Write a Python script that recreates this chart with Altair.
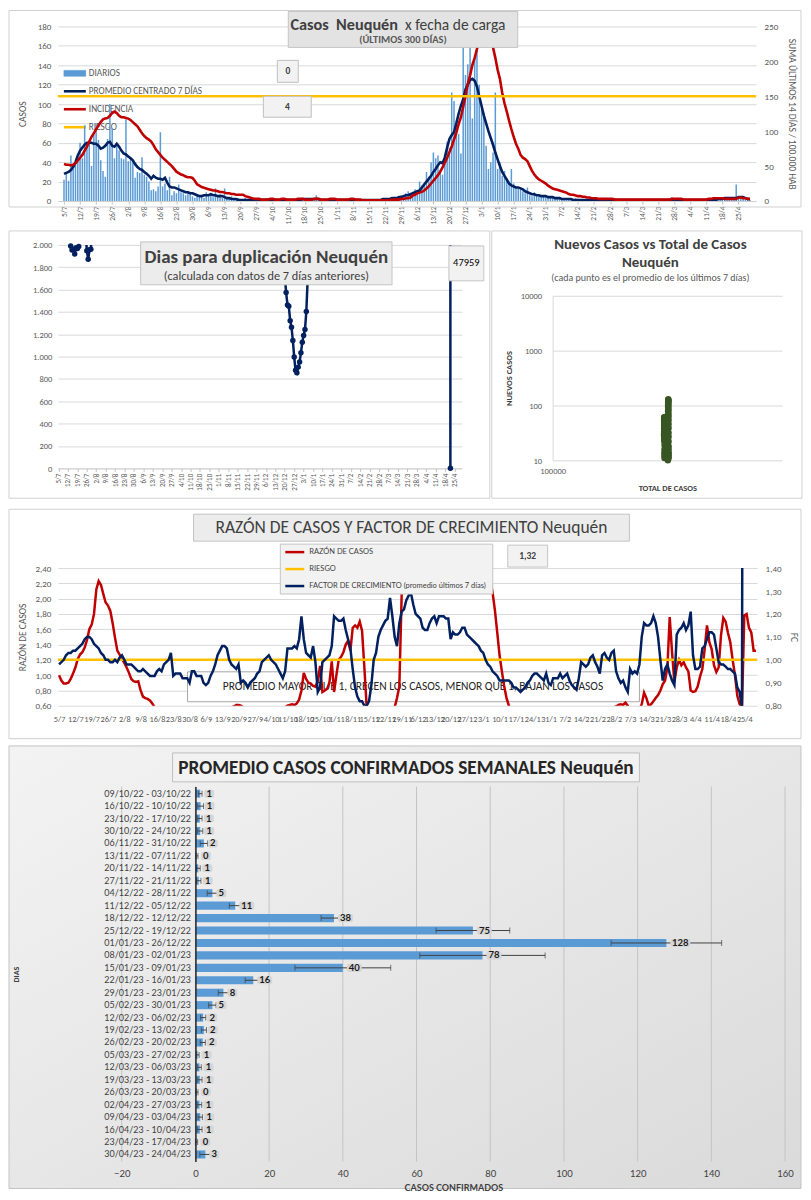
import json
import altair as alt
import pandas as pd

FONT = "Carlito, Lato, 'Open Sans', sans-serif"
NARROW = "'Liberation Sans Narrow', 'Arial Narrow', Lato, sans-serif"
GRIS = "#595959"
OSCURO = "#404040"

# ---------------- eje de días: últimos 300 días (5/7/2022 ... 30/4/2023) ----------------
TICK_LABELS = ['5/7', '12/7', '19/7', '26/7', '2/8', '9/8', '16/8', '23/8', '30/8', '6/9', '13/9',
               '20/9', '27/9', '4/10', '11/10', '18/10', '25/10', '1/11', '8/11', '15/11', '22/11',
               '29/11', '6/12', '13/12', '20/12', '27/12', '3/1', '10/1', '17/1', '24/1', '31/1',
               '7/2', '14/2', '21/2', '28/2', '7/3', '14/3', '21/3', '28/3', '4/4', '11/4', '18/4', '25/4']
TICKS = [7 * i for i in range(len(TICK_LABELS))]
DIAS = list(range(300))

# ---------------- panel 1: casos diarios ----------------
DIARIOS = [
    22, 30, 21, 47, 33, 40, 47, 60, 44, 78,
    58, 60, 36, 68, 80, 63, 42, 31, 25, 64,
    100, 75, 44, 60, 52, 44, 43, 84, 41, 45,
    40, 24, 30, 29, 45, 27, 25, 20, 11, 12,
    10, 15, 71, 15, 18, 11, 25, 6, 10, 8,
    17, 9, 8, 6, 10, 9, 5, 3, 5, 4,
    6, 3, 9, 5, 6, 4, 13, 5, 7, 3,
    13, 2, 3, 5, 1, 2, 3, 1, 2, 3,
    1, 0, 2, 1, 1, 2, 0, 1, 3, 1,
    0, 1, 2, 1, 0, 1, 1, 2, 0, 1,
    1, 0, 2, 1, 3, 1, 0, 1, 2, 1,
    6, 1, 0, 2, 1, 1, 0, 3, 1, 0,
    1, 2, 1, 0, 1, 3, 1, 0, 2, 1,
    0, 1, 1, 2, 0, 1, 0, 1, 2, 1,
    2, 1, 3, 2, 4, 3, 5, 6, 4, 8,
    10, 7, 9, 12, 8, 20, 16, 18, 30, 25,
    40, 50, 44, 47, 32, 27, 38, 61, 55, 112,
    103, 80, 69, 49, 160, 130, 141, 158, 85, 150,
    160, 120, 95, 91, 57, 33, 40, 50, 112, 33,
    40, 26, 31, 23, 20, 33, 18, 14, 13, 12,
    10, 8, 14, 6, 5, 9, 6, 5, 4, 6,
    4, 3, 5, 3, 2, 4, 2, 1, 3, 2,
    1, 2, 1, 3, 1, 0, 2, 1, 1, 0,
    1, 2, 0, 1, 1, 0, 2, 1, 0, 1,
    1, 0, 1, 2, 0, 1, 1, 0, 2, 1,
    0, 1, 1, 0, 2, 1, 0, 1, 1, 0,
    1, 0, 1, 2, 1, 4, 0, 1, 1, 0,
    1, 1, 0, 2, 1, 0, 1, 1, 2, 0,
    1, 2, 1, 0, 3, 2, 1, 1, 2, 3,
    2, 1, 3, 17, 3, 2, 4, 1, 2, 1]
PROMEDIO = [
    28, 29, 30, 32, 35, 40, 47, 52, 55, 58,
    60, 60, 60, 59, 59, 57, 54, 55, 57, 60,
    61, 57, 56, 59, 56, 52, 49, 48, 46, 44,
    42, 38, 35, 33, 32, 30, 28, 26, 23, 26,
    24, 23, 23, 22, 24, 19, 15, 14, 14, 13,
    12, 11, 10, 9, 9, 8, 8, 7, 6, 5,
    5, 6, 6, 6, 7, 6, 6, 5, 5, 5,
    4, 3, 3, 2, 2, 2, 1, 1, 1, 1,
    1, 1, 1, 1, 1, 1, 1, 1, 1, 1,
    1, 1, 1, 1, 1, 1, 1, 1, 1, 1,
    1, 1, 1, 1, 2, 2, 2, 2, 2, 2,
    2, 2, 1, 1, 1, 1, 1, 1, 1, 1,
    1, 1, 1, 1, 1, 1, 1, 1, 1, 1,
    1, 1, 1, 1, 1, 1, 1, 1, 1, 2,
    2, 2, 2, 3, 3, 3, 4, 4, 5, 6,
    6, 7, 8, 9, 10, 11, 14, 17, 20, 23,
    26, 30, 33, 37, 40, 39, 45, 55, 64, 68,
    71, 80, 90, 98, 105, 115, 120, 125, 126, 124,
    118, 108, 98, 88, 80, 72, 65, 58, 50, 43,
    36, 30, 26, 22, 18, 16, 15, 14, 14, 13,
    12, 10, 9, 8, 7, 7, 6, 6, 5, 5,
    5, 4, 4, 4, 3, 3, 3, 2, 2, 2,
    2, 2, 1, 1, 1, 1, 1, 1, 1, 1,
    1, 1, 1, 1, 1, 1, 1, 1, 1, 1,
    1, 1, 1, 1, 1, 1, 1, 1, 1, 1,
    1, 1, 1, 1, 1, 1, 1, 1, 1, 1,
    1, 1, 1, 1, 1, 1, 1, 1, 1, 1,
    1, 1, 1, 1, 1, 1, 1, 1, 1, 1,
    1, 1, 1, 1, 1, 2, 2, 2, 3, 3,
    3, 3, 3, 3, 4, 4, 4, 3, 2, 2]
INCIDENCIA = [
    53, 52, 52, 51, 52, 54, 58, 62, 66, 72,
    78, 85, 92, 97, 103, 108, 113, 117, 118, 119,
    122, 126, 128, 126, 122, 120, 120, 119, 118, 116,
    113, 110, 107, 102, 97, 93, 90, 88, 85, 80,
    74, 70, 66, 62, 59, 56, 53, 50, 46, 42,
    40, 38, 37, 35, 34, 34, 33, 29, 24, 22,
    20, 19, 18, 17, 16, 15, 15, 14, 13, 13,
    12, 11, 11, 10, 10, 9, 9, 9, 9, 7,
    6, 5, 4, 3, 3, 3, 2, 2, 2, 2,
    3, 3, 2, 2, 2, 3, 3, 2, 2, 2,
    2, 2, 3, 3, 3, 2, 2, 2, 2, 3,
    3, 3, 2, 2, 2, 2, 3, 3, 3, 2,
    2, 2, 2, 2, 2, 3, 3, 2, 2, 2,
    1, 1, 1, 1, 1, 1, 1, 1, 1, 1,
    1, 1, 1, 2, 2, 2, 2, 3, 3, 4,
    4, 5, 8, 9, 11, 12, 13, 15, 18, 21,
    25, 29, 33, 37, 42, 48, 55, 62, 70, 78,
    88, 98, 110, 120, 135, 150, 168, 180, 195, 205,
    218, 228, 238, 245, 248, 245, 235, 220, 205, 188,
    175, 155, 140, 128, 115, 103, 92, 82, 75, 66,
    62, 60, 57, 50, 43, 38, 34, 31, 29, 27,
    25, 22, 20, 18, 17, 16, 15, 14, 13, 12,
    10, 9, 9, 8, 7, 7, 6, 6, 5, 5,
    4, 4, 4, 3, 3, 3, 3, 3, 3, 3,
    2, 2, 2, 2, 2, 2, 2, 2, 2, 2,
    2, 2, 2, 2, 2, 2, 2, 2, 2, 2,
    2, 2, 2, 2, 2, 3, 3, 3, 3, 3,
    2, 2, 2, 2, 2, 2, 2, 2, 2, 2,
    2, 3, 3, 4, 4, 4, 4, 4, 3, 3,
    3, 3, 3, 3, 5, 5, 4, 4, 3, 3]
RIESGO_INCIDENCIA = 150

# ---------------- panel 2a: días para duplicación ----------------
DUP_DIA = list(range(8, 26)) + list(range(167, 187)) + [290, 291]
DUP_VALOR = [2150, 1990, 1955, 1960, 1918, 1975, 1967, 1985, 2080, 2300, 2450, 2400, 2150, 1948, 1872, 1956, 1962, 2150,
             2150, 1724, 1575, 1462, 1450, 1322, 1263, 1144, 996, 877, 856, 906, 951, 1034, 1129, 1189, 1242, 1403, 1694, 2300,
             47959, 0]
DUP_TRAMO = ["a"] * 18 + ["b"] * 20 + ["c"] * 2

# ---------------- panel 2b: nuevos casos vs total ----------------
SCAT_TOTAL = [306000, 306030, 306065, 306105, 306150, 306200, 306260, 306320, 306380, 306440,
              306500, 306560, 306620, 306680, 306740, 306800, 306860, 306915, 306970, 307020,
              307065, 307105, 307140, 307170, 307200, 307225, 307250, 307272, 307290, 307308,
              307325, 307342, 307360, 307375, 307390, 307402, 307413, 307423, 307432, 307440,
              318000, 318011, 318025, 318042, 318062, 318086, 318114, 318146, 318183, 318224,
              318270, 318325, 318390, 318460, 318540, 318630, 318730, 318840, 318960, 319085,
              319215, 319340, 319455, 319558, 319648, 319728, 319798, 319860, 319914, 319960,
              319998, 320029, 320055, 320077, 320095, 320111, 320125, 320137, 320148, 320158]
SCAT_NUEVOS = [28, 30, 33, 38, 44, 50, 55, 58, 60, 60, 59, 58, 55, 56, 59, 61, 57, 55, 58, 53,
               49, 47, 44, 41, 37, 34, 32, 29, 27, 24, 25, 23, 22, 23, 19, 16, 14, 13, 12, 11,
               10, 11, 14, 17, 20, 24, 28, 32, 36, 40, 45, 55, 64, 70, 80, 90, 100, 110, 118, 125,
               130, 126, 115, 102, 90, 80, 70, 62, 54, 46, 39, 32, 27, 22, 18, 16, 14, 13, 12, 11]

# ---------------- panel 3: razón de casos y factor de crecimiento ----------------
RAZON = [
    1.00, 0.93, 0.89, 0.89, 0.90, 0.95, 1.02, 1.10, 1.21, 1.27,
    1.30, 1.36, 1.46, 1.60, 1.66, 1.80, 2.12, 2.23, 2.18, 2.06,
    1.95, 1.91, 1.84, 1.68, 1.49, 1.32, 1.27, 1.21, 1.16, 1.10,
    1.03, 0.95, 0.92, 0.91, 0.92, 0.80, 0.72, 0.70, 0.69, 0.67,
    0.63, 0.58, 0.54, 0.50, 0.48, 0.47, 0.49, 0.51, 0.50, 0.48,
    0.46, 0.47, 0.49, 0.52, 0.50, 0.48, 0.47, 0.49, 0.51, 0.50,
    0.48, 0.47, 0.49, 0.50, 0.52, 0.51, 0.49, 0.50, 0.53, 0.55,
    0.54, 0.56, 0.55, 0.57, 0.58, 0.59, 0.61, 0.61, 0.60, 0.58,
    0.55, 0.52, 0.50, 0.49, 0.50, 0.52, 0.51, 0.50, 0.52, 0.54,
    0.53, 0.55, 0.54, 0.56, 0.55, 0.57, 0.58, 0.58, 0.60, 0.61,
    0.62, 0.61, 0.63, 0.68, 0.80, 1.03, 0.95, 0.90, 0.89, 0.86,
    0.85, 0.92, 1.12, 0.78, 0.80, 0.82, 0.90, 1.18, 0.78, 1.00,
    1.20, 1.24, 1.30, 1.40, 1.45, 1.32, 1.62, 1.65, 1.62, 1.70,
    1.58, 1.10, 0.58, 0.50, 0.47, 0.45, 0.46, 0.48, 0.50, 0.49,
    0.50, 0.52, 0.53, 0.55, 0.58, 0.70, 0.85, 2.05, 2.60, 2.90,
    3.10, 3.20, 3.10, 3.00, 2.90, 3.00, 3.10, 2.90, 2.80, 2.75,
    2.70, 2.80, 2.75, 2.70, 2.65, 2.70, 2.75, 2.80, 2.85, 2.90,
    2.95, 2.90, 2.85, 2.80, 2.75, 2.70, 2.65, 2.60, 2.55, 2.50,
    2.50, 2.45, 2.40, 2.35, 2.30, 2.25, 2.08, 1.85, 1.56, 1.26,
    1.05, 0.85, 0.70, 0.60, 0.52, 0.48, 0.45, 0.43, 0.42, 0.43,
    0.44, 0.45, 0.46, 0.47, 0.48, 0.47, 0.46, 0.48, 0.49, 0.50,
    0.49, 0.48, 0.50, 0.51, 0.50, 0.49, 0.50, 0.52, 0.51, 0.50,
    0.49, 0.50, 0.51, 0.52, 0.53, 0.52, 0.51, 0.53, 0.54, 0.55,
    0.54, 0.53, 0.55, 0.56, 0.55, 0.54, 0.56, 0.57, 0.58, 0.59,
    0.61, 0.62, 0.61, 0.64, 0.60, 0.55, 0.50, 0.48, 0.52, 0.55,
    0.62, 0.77, 0.70, 0.60, 0.62, 0.66, 0.70, 0.74, 0.80, 0.88,
    0.93, 1.10, 1.76, 1.30, 0.91, 1.10, 1.20, 1.13, 1.17, 1.10,
    1.05, 0.80, 0.78, 0.79, 0.85, 0.98, 1.08, 1.34, 1.65, 1.43,
    1.34, 1.13, 1.04, 1.10, 1.52, 1.75, 1.70, 1.55, 1.43, 1.20,
    1.00, 0.73, 0.62, 0.58, 1.78, 1.80, 1.62, 1.56, 1.32, 1.32]
FC = [
    0.98, 0.99, 1.00, 1.02, 1.03, 1.03, 1.04, 1.04, 1.05, 1.06,
    1.07, 1.09, 1.10, 1.10, 1.09, 1.07, 1.06, 1.05, 1.03, 1.02,
    1.00, 1.00, 0.99, 0.99, 1.00, 0.99, 1.01, 1.02, 1.00, 0.98,
    0.98, 0.98, 0.97, 0.96, 0.95, 0.95, 0.96, 0.95, 0.94, 0.93,
    0.93, 0.93, 0.95, 0.96, 0.95, 0.98, 0.99, 1.00, 1.03, 0.93,
    0.94, 0.94, 0.94, 0.92, 0.92, 0.92, 0.90, 0.95, 0.95, 0.93,
    0.93, 0.93, 0.90, 0.89, 0.90, 0.93, 0.95, 0.98, 1.02, 1.04,
    1.06, 1.06, 1.05, 1.00, 0.98, 0.97, 0.96, 0.98, 0.90, 0.91,
    0.90, 0.88, 0.90, 0.91, 0.92, 0.94, 0.95, 0.99, 1.00, 1.01,
    1.02, 1.00, 0.99, 0.98, 0.96, 0.94, 0.92, 0.95, 1.05, 1.05,
    1.05, 1.06, 1.05, 1.09, 1.19, 1.09, 1.03, 1.02, 1.01, 1.06,
    0.99, 0.86, 0.88, 0.99, 1.00, 1.01, 1.02, 1.06, 1.19, 1.18,
    1.17, 1.17, 1.18, 1.13, 1.09, 1.05, 0.96, 0.88, 0.84, 0.82,
    0.82, 0.80, 0.80, 0.82, 0.89, 1.00, 1.03, 1.10, 1.13, 1.15,
    1.17, 1.18, 1.27, 1.19, 1.10, 1.06, 1.16, 1.21, 1.22, 1.26,
    1.28, 1.29, 1.24, 1.20, 1.19, 1.18, 1.14, 1.13, 1.13, 1.16,
    1.18, 1.19, 1.16, 1.19, 1.19, 1.19, 1.18, 1.18, 1.09, 1.12,
    1.11, 1.11, 1.12, 1.14, 1.14, 1.11, 1.10, 1.09, 1.08, 1.07,
    1.06, 1.04, 1.03, 1.00, 0.98, 0.97, 0.95, 0.94, 0.93, 0.91,
    0.91, 0.91, 0.91, 0.91, 0.90, 0.88, 0.88, 0.87, 0.86, 0.87,
    0.88, 0.90, 0.91, 0.93, 0.94, 0.94, 0.93, 0.92, 0.91, 0.94,
    0.90, 0.89, 0.92, 0.92, 0.92, 0.94, 0.92, 0.93, 0.94, 0.91,
    0.89, 0.88, 0.87, 0.92, 0.99, 0.98, 0.97, 0.98, 1.01, 1.02,
    0.99, 0.97, 0.94, 1.02, 1.03, 1.01, 1.00, 1.03, 1.04, 0.95,
    0.92, 0.90, 0.91, 0.88, 0.86, 0.96, 0.94, 0.95, 0.94, 0.98,
    1.10, 1.16, 1.15, 1.15, 1.16, 1.19, 1.16, 1.10, 1.00, 0.91,
    0.96, 0.98, 0.94, 0.91, 0.89, 1.11, 1.13, 1.14, 1.16, 1.13,
    1.15, 1.21, 1.02, 0.96, 0.96, 0.97, 1.05, 1.06, 1.09, 1.12,
    1.12, 1.11, 1.05, 0.99, 0.98, 0.98, 0.97, 0.96, 0.96, 0.95,
    0.94, 0.88, 0.86, 0.79, 6.00]
RIESGO_FC = 1.0

# ---------------- panel 4: promedio semanal ----------------
SEMANAS = ['09/10/22 - 03/10/22', '16/10/22 - 10/10/22', '23/10/22 - 17/10/22', '30/10/22 - 24/10/22',
           '06/11/22 - 31/10/22', '13/11/22 - 07/11/22', '20/11/22 - 14/11/22', '27/11/22 - 21/11/22',
           '04/12/22 - 28/11/22', '11/12/22 - 05/12/22', '18/12/22 - 12/12/22', '25/12/22 - 19/12/22',
           '01/01/23 - 26/12/22', '08/01/23 - 02/01/23', '15/01/23 - 09/01/23', '22/01/23 - 16/01/23',
           '29/01/23 - 23/01/23', '05/02/23 - 30/01/23', '12/02/23 - 06/02/23', '19/02/23 - 13/02/23',
           '26/02/23 - 20/02/23', '05/03/23 - 27/02/23', '12/03/23 - 06/03/23', '19/03/23 - 13/03/23',
           '26/03/23 - 20/03/23', '02/04/23 - 27/03/23', '09/04/23 - 03/04/23', '16/04/23 - 10/04/23',
           '23/04/23 - 17/04/23', '30/04/23 - 24/04/23']
PROM_SEM = [1.3, 1.4, 1.2, 1.3, 2.3, 0.4, 0.8, 0.9, 4.6, 10.8, 37.6, 75.3, 127.8, 77.9, 40.0,
            15.7, 7.6, 4.6, 2.1, 2.3, 2.0, 0.6, 1.1, 1.2, 0.4, 1.1, 1.3, 1.2, 0.3, 2.7]
ERR_SEM = [0.5, 0.8, 0.6, 0.7, 1.0, 0.3, 0.5, 0.6, 1.4, 1.6, 3.5, 10.0, 15.0, 17.0, 13.0,
           2.2, 1.4, 1.0, 0.7, 0.7, 0.7, 0.4, 0.5, 0.6, 0.3, 0.6, 0.6, 0.6, 0.3, 1.5]
GRID4 = list(range(-20, 161, 20))

assert len(DIARIOS) == 300 and len(PROMEDIO) == 300 and len(INCIDENCIA) == 300 and len(RAZON) == 300
assert len(DUP_DIA) == len(DUP_VALOR) == len(DUP_TRAMO)
assert len(SCAT_TOTAL) == len(SCAT_NUEVOS)

LEXPR = json.dumps(TICK_LABELS) + "[round(datum.value / 7)]"
MILES = "replace(format(datum.value, ','), ',', '.')"
COMA2 = "replace(format(datum.value, '.2f'), '.', ',')"

ONE = alt.InlineData(values=[{"k": 1}])
DER = 745  # borde derecho común de los marcos (relativo al origen del área de trazado)


def caja(x1, y1, x2, y2, fill="#f2f2f2", stroke="#bfbfbf", sw=1.0, fop=1.0):
    return alt.Chart(ONE).mark_rect(fill=fill, fillOpacity=fop, stroke=stroke, strokeWidth=sw).encode(
        x=alt.value(x1), x2=alt.value(x2), y=alt.value(y1), y2=alt.value(y2))


def marco(x1, y1, x2, y2):
    return caja(x1, y1, x2, y2, fill="white", stroke="#d0d0d0", sw=1.0, fop=0.0)


def invisible(y):
    return alt.Chart(ONE).mark_rect(opacity=0).encode(
        x=alt.value(0), x2=alt.value(1), y=alt.value(y), y2=alt.value(y + 1))


def texto(x, y, s, size=9, weight="normal", color=OSCURO, align="center", font=FONT):
    return alt.Chart(ONE).mark_text(text=s, fontSize=size, fontWeight=weight, color=color, align=align,
                                    baseline="middle", font=font).encode(x=alt.value(x), y=alt.value(y))


def trazo(x1, x2, y, color, sw):
    return alt.Chart(ONE).mark_rule(color=color, strokeWidth=sw).encode(
        x=alt.value(x1), x2=alt.value(x2), y=alt.value(y))


x_sc = alt.Scale(domain=[-0.5, 299.5], nice=False, zero=False)


def eje_x(angle, size, pad, ticks, domain=True):
    return alt.Axis(values=TICKS, labelExpr=LEXPR, labelAngle=angle, labelFontSize=size, labelPadding=pad,
                    title=None, grid=False, ticks=ticks, tickSize=3, domain=domain,
                    labelOverlap=False, labelFlush=False)


# ======================= PANEL 1 =======================
df1 = pd.DataFrame({"dia": DIAS, "diarios": DIARIOS, "promedio": PROMEDIO, "incidencia": INCIDENCIA})
X1 = alt.X("dia:Q", scale=x_sc, axis=eje_x(-90, 7.5, 2, True))
sc_casos = alt.Scale(domain=[0, 180], nice=False)
ax_casos = alt.Axis(values=list(range(0, 181, 20)), grid=True, domain=False, ticks=False, labelFontSize=9,
                    labelPadding=7, titleFontSize=9.5, titleFontWeight="normal", titlePadding=10)
sc_inc = alt.Scale(domain=[0, 250], nice=False)
ax_inc = alt.Axis(orient="right", values=list(range(0, 251, 50)), grid=False, domain=False, ticks=False,
                  labelFontSize=9, labelPadding=8, titleFontSize=9.5, titleFontWeight="normal", titlePadding=9)
T_CASOS = "CASOS"
T_INC = "SUMA  ÚLTIMOS 14 DÍAS / 100.000 HAB"

barras = alt.Chart(df1).mark_bar(color="#5B9BD5", size=1.5, clip=True).encode(
    x=X1, y=alt.Y("diarios:Q", scale=sc_casos, axis=ax_casos, title=T_CASOS))
prom = alt.Chart(df1).mark_line(color="#002060", strokeWidth=2.6, clip=True).encode(
    x=X1, y=alt.Y("promedio:Q", scale=sc_casos, axis=ax_casos, title=T_CASOS))
inc = alt.Chart(df1).mark_line(color="#C00000", strokeWidth=2.6, clip=True).encode(
    x=X1, y=alt.Y("incidencia:Q", scale=sc_inc, axis=ax_inc, title=T_INC))
riesgo1 = alt.Chart(ONE).mark_rule(color="#FFC000", strokeWidth=2.6).encode(
    y=alt.Y(datum=RIESGO_INCIDENCIA, scale=sc_inc, axis=ax_inc, title=T_INC))

p1 = alt.layer(
    marco(-49, -16, DER, 181),
    caja(6, 44, 28, 50, fill="#5B9BD5", stroke="#5B9BD5", sw=0.5),
    texto(31, 47, "DIARIOS", 9.3, color=GRIS, align="left"),
    trazo(6, 28, 65, "#002060", 2.6),
    texto(31, 65, "PROMEDIO CENTRADO 7 DÍAS", 9.3, color=GRIS, align="left"),
    trazo(6, 28, 83, "#C00000", 2.6),
    texto(31, 83, "INCIDENCIA", 9.3, color=GRIS, align="left"),
    trazo(6, 28, 101, "#FFC000", 2.6),
    texto(31, 101, "RIESGO", 9.3, color=GRIS, align="left"),
    alt.layer(barras, prom),
    alt.layer(inc, riesgo1),
    caja(220, 34, 241, 56),
    texto(230.5, 45, "0", 9.5, weight="bold"),
    caja(206, 70, 254, 91),
    texto(230, 80.5, "4", 9.5, weight="bold"),
    caja(231, -15, 461, 21, fill="#e3e3e3", stroke="#c4c4c4"),
    texto(341, -1, "Casos\u00a0\u00a0Neuquén", 16.3, weight="bold", align="right"),
    texto(348, -1, "x\u00a0fecha\u00a0de\u00a0carga", 15.5, align="left"),
    texto(346, 13.5, "(ÚLTIMOS\u00a0300\u00a0DÍAS)", 10.5, weight="bold", color=GRIS),
).resolve_scale(y="independent").properties(width=700, height=175)

# ======================= PANEL 2a =======================
df_dup = pd.DataFrame({"dia": DUP_DIA, "valor": DUP_VALOR, "tramo": DUP_TRAMO})
X2 = alt.X("dia:Q", scale=x_sc, axis=eje_x(-90, 7, 2, True))
sc_dup = alt.Scale(domain=[0, 2000], nice=False)
ax_dup = alt.Axis(values=list(range(0, 2001, 200)), labelExpr=MILES, grid=True, domain=False, ticks=False,
                  labelFontSize=8.5, labelPadding=6, title=None)
linea_dup = alt.Chart(df_dup).mark_line(color="#002060", strokeWidth=2.5, clip=True).encode(
    x=X2, y=alt.Y("valor:Q", scale=sc_dup, axis=ax_dup), detail="tramo:N")
puntos_dup = alt.Chart(df_dup).transform_filter("datum.valor <= 2000").mark_circle(
    color="#002060", size=30, opacity=1).encode(x=X2, y=alt.Y("valor:Q", scale=sc_dup, axis=ax_dup))

p2a = alt.layer(
    marco(-49, -14, 433, 254),
    linea_dup, puntos_dup,
    caja(83, -3, 335, 40, fill="#ececec", stroke="#c4c4c4"),
    texto(209, 12, "Dias para duplicación Neuquén", 19, weight="bold"),
    texto(209, 31, "(calculada con datos de 7 días anteriores)", 12.3),
    caja(392, 1, 427, 36, fill="#f2f2f2", stroke="#c4c4c4"),
    texto(409.5, 18.5, "47959", 10.5, color="#000000"),
).properties(width=405, height=224)

# ======================= PANEL 2b =======================
df_sc = pd.DataFrame({"total": SCAT_TOTAL, "nuevos": SCAT_NUEVOS})
sc_tot = alt.Scale(type="log", domain=[100000, 1000000], nice=False)
sc_nue = alt.Scale(type="log", domain=[10, 10000], nice=False, range=[216, 51])
puntos = alt.Chart(df_sc).mark_circle(color="#375623", size=42, opacity=1).encode(
    x=alt.X("total:Q", scale=sc_tot,
            axis=alt.Axis(values=[100000], format="d", grid=False, domain=False, ticks=False, labelFlush=False,
                          labelFontSize=8.5, labelPadding=6, titleFontSize=8.5, titleFontWeight="bold",
                          titleColor=OSCURO, titlePadding=9),
            title="TOTAL DE CASOS"),
    y=alt.Y("nuevos:Q", scale=sc_nue,
            axis=alt.Axis(values=[10, 100, 1000, 10000], format="d", grid=True, domain=True, domainColor="#d9d9d9",
                          ticks=False, labelFontSize=8.5, labelPadding=11, titleFontSize=8.5,
                          titleFontWeight="bold", titleColor=OSCURO, titleX=-39, titleY=133.5),
            title="NUEVOS CASOS"))

p2b = alt.layer(
    marco(-61, -14, DER - 495, 254),
    puntos,
    texto(98, -1, "Nuevos Casos vs Total de Casos", 15, weight="bold"),
    texto(98, 17, "Neuquén", 15, weight="bold"),
    texto(98, 33, "(cada punto es el promedio de los últimos 7 días)", 10, color=GRIS),
).properties(width=230, height=216)

# ======================= PANEL 3 =======================
df3 = pd.DataFrame({"dia": DIAS, "razon": RAZON})
df3b = pd.DataFrame({"dia": DIAS[:len(FC)], "fc": FC})
X3 = alt.X("dia:Q", scale=x_sc, axis=eje_x(0, 8.3, 9, False, domain=False))
sc_raz = alt.Scale(domain=[0.6, 2.4], nice=False, zero=False)
ax_raz = alt.Axis(values=[0.6, 0.8, 1.0, 1.2, 1.4, 1.6, 1.8, 2.0, 2.2, 2.4], labelExpr=COMA2, grid=True,
                  domain=False, ticks=False, labelFontSize=9, labelPadding=7, titleFontSize=9.5,
                  titleFontWeight="normal", titlePadding=8)
sc_fc = alt.Scale(domain=[0.8, 1.4], nice=False, zero=False)
ax_fc = alt.Axis(orient="right", values=[0.8, 0.9, 1.0, 1.1, 1.2, 1.3, 1.4], labelExpr=COMA2, grid=False,
                 domain=False, ticks=False, labelFontSize=9, labelPadding=8, titleFontSize=9.5,
                 titleFontWeight="normal", titlePadding=8)
T_RAZ = "RAZÓN DE CASOS"
T_FC = "FC"
linea_raz = alt.Chart(df3).mark_line(color="#C00000", strokeWidth=2.5, clip=True).encode(
    x=X3, y=alt.Y("razon:Q", scale=sc_raz, axis=ax_raz, title=T_RAZ))
riesgo3 = alt.Chart(ONE).mark_rule(color="#FFC000", strokeWidth=2.5).encode(
    y=alt.Y(datum=RIESGO_FC, scale=sc_fc, axis=ax_fc, title=T_FC))
linea_fc = alt.Chart(df3b).mark_line(color="#002060", strokeWidth=2.5, clip=True).encode(
    x=X3, y=alt.Y("fc:Q", scale=sc_fc, axis=ax_fc, title=T_FC))

p3 = alt.layer(
    marco(-49, -59, DER, 171),
    invisible(-64),
    caja(130, 104, 583, 134, fill="white", stroke="#a6a6a6"),
    texto(356, 119, "PROMEDIO MAYOR QUE 1, CRECEN LOS CASOS, MENOR QUE 1, BAJAN LOS CASOS", 11.5,
          color="#262626"),
    linea_raz,
    alt.layer(riesgo3, linea_fc),
    caja(136, -54, 573, -27, fill="#ececec", stroke="#c4c4c4"),
    texto(354.5, -40.5, "RAZÓN DE CASOS Y FACTOR DE CRECIMIENTO Neuquén", 17.5, color=OSCURO),
    caja(223, -24, 436, 26, fill="#f2f2f2", stroke="#c4c4c4"),
    trazo(228, 247, -16, "#C00000", 2.5),
    texto(252, -16, "RAZÓN DE CASOS", 7.5, color=OSCURO, align="left", font=NARROW),
    trazo(228, 247, 1, "#FFC000", 2.5),
    texto(252, 1, "RIESGO", 7.5, color=OSCURO, align="left", font=NARROW),
    trazo(228, 247, 18, "#002060", 2.5),
    texto(252, 18, "FACTOR DE CRECIMIENTO (promedio últimos 7 días)", 7.5, color=OSCURO, align="left",
          font=NARROW),
    caja(451, -23, 491, -1, fill="#f2f2f2", stroke="#c4c4c4"),
    texto(471, -12, "1,32", 9.5, weight="bold"),
).resolve_scale(y="independent").properties(width=701, height=138)

# ======================= PANEL 4 =======================
H4 = 376
df4 = pd.DataFrame({"semana": SEMANAS, "valor": PROM_SEM, "err": ERR_SEM})
base4 = alt.Chart(df4).transform_calculate(
    lo="datum.valor - datum.err", hi="datum.valor + datum.err", lbl="format(datum.valor, '.0f')"
).transform_calculate(nd="length(datum.lbl)")
sc4 = alt.Scale(domain=[-20, 160], range=[64, 729], nice=False, zero=False)
ax4 = alt.Axis(values=GRID4, grid=False, domain=False, ticks=False, zindex=1, labelFont=NARROW, labelFontSize=9.5,
               labelColor=OSCURO, labelPadding=7, labelFlush=False, titleFont=NARROW, titleFontSize=9,
               titleFontWeight="bold", titleColor=OSCURO, titlePadding=5)
T4X = "CASOS CONFIRMADOS"
Y4 = alt.Y("semana:N", sort=SEMANAS, scale=alt.Scale(paddingInner=0.35, paddingOuter=0.25),
           axis=alt.Axis(offset=-137.9, zindex=1, domain=True, domainColor="#262626", domainWidth=1.5,
                         ticks=False, labelPadding=5, labelFont=NARROW, labelFontSize=9, labelColor=OSCURO,
                         titleFont=FONT, titleFontSize=8, titleFontWeight="bold", titleColor=OSCURO,
                         titleX=-175, titleY=H4 / 2),
           title="DIAS")


def X4(field):
    return alt.X(field, scale=sc4, axis=ax4, title=T4X)


grad = alt.LinearGradient(gradient="linear",
                          stops=[alt.GradientStop(color="#f3f3f3", offset=0),
                                 alt.GradientStop(color="#dadada", offset=1)],
                          x1=0, x2=1, y1=0, y2=1)
fondo4 = alt.Chart(ONE).mark_rect(fill=grad, stroke="#c4c4c4", strokeWidth=1).encode(
    x=alt.value(-49), x2=alt.value(DER), y=alt.value(-40.7), y2=alt.value(H4 + 27))
grid4 = alt.Chart(pd.DataFrame({"g": GRID4})).mark_rule(color="#c4c4c4", strokeWidth=1).encode(x=X4("g:Q"))
barras4 = base4.mark_bar(color="#5B9BD5").encode(x=X4("valor:Q"), x2=alt.X2(datum=0), y=Y4)
err4 = base4.mark_rule(color="#404040", strokeWidth=1).encode(x=X4("lo:Q"), x2="hi:Q", y=Y4)
cap_lo = base4.mark_tick(color="#404040", thickness=1, size=6).encode(x=X4("lo:Q"), y=Y4)
cap_hi = base4.mark_tick(color="#404040", thickness=1, size=6).encode(x=X4("hi:Q"), y=Y4)

etiquetas = []
for n, w in ((1, 10), (2, 15), (3, 20)):
    sub = base4.transform_filter(f"datum.nd == {n}")
    etiquetas.append(sub.mark_rect(fill="#d6d6d6", xOffset=4, x2Offset=4 + w, cornerRadius=2).encode(
        x=X4("valor:Q"), x2="valor:Q", y=Y4))
    etiquetas.append(sub.mark_text(fontWeight="bold", fontSize=9.5, font=NARROW, color="#1a1a1a",
                                   align="center", baseline="middle", dx=4 + w / 2).encode(
        x=X4("valor:Q"), y=Y4, text="lbl:N"))

p4 = alt.layer(
    fondo4, grid4,
    caja(115, -33.7, 583, -4.7, fill="#f2f2f2", stroke="#bfbfbf"),
    texto(349, -19, "PROMEDIO CASOS CONFIRMADOS SEMANALES Neuquén", 19.3, weight="bold", color="#262626"),
    barras4, err4, cap_lo, cap_hi, *etiquetas,
).properties(width=729, height=H4)

chart = alt.vconcat(
    p1,
    alt.hconcat(p2a, p2b, spacing=0),
    p3,
    p4,
    spacing=5,
).properties(
    padding={"left": 0, "top": 0, "right": 0, "bottom": 0}, background="white"
).configure_view(strokeWidth=0).configure_axis(
    labelFont=FONT, titleFont=FONT, labelColor=GRIS, titleColor=GRIS, gridColor="#d9d9d9",
    domainColor="#d0d0d0", tickColor="#bfbfbf")

chart.save("out.html", embed_options={"renderer": "svg", "actions": False})
